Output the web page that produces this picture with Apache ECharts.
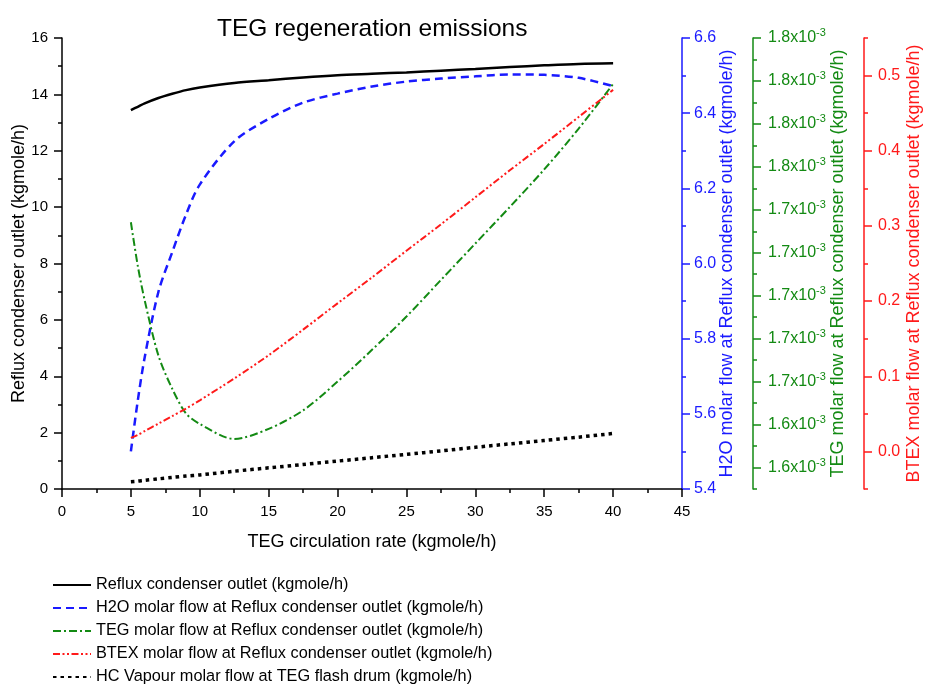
<!DOCTYPE html>
<html>
<head>
<meta charset="utf-8">
<script src="https://cdn.jsdelivr.net/npm/echarts@6/dist/echarts.min.js"></script>
<style>
html,body{margin:0;padding:0;background:#fff;}
#chart{width:926px;height:686px;}
</style>
</head>
<body>
<div id="chart"></div>
<script>
// ---- data ----
const xVals = [5, 5.5, 6, 7, 8, 9, 10, 12.5, 15, 17.5, 20, 22.5, 25, 27.5, 30, 32.5, 35, 37.5, 40];
const refluxOutlet = [13.44, 13.56, 13.68, 13.87, 14.02, 14.15, 14.24, 14.40, 14.50, 14.60, 14.68, 14.73, 14.78, 14.84, 14.90, 14.97, 15.03, 15.08, 15.10];
const h2oFlow = [5.50, 5.635, 5.75, 5.925, 6.03, 6.13, 6.21, 6.325, 6.385, 6.428, 6.452, 6.471, 6.484, 6.492, 6.498, 6.503, 6.502, 6.494, 6.472];
const tegFlow = [1.7342e-3, 1.7139e-3, 1.6979e-3, 1.6721e-3, 1.6567e-3, 1.6452e-3, 1.6403e-3, 1.6333e-3, 1.6380e-3, 1.6466e-3, 1.6600e-3, 1.6748e-3, 1.6903e-3, 1.7073e-3, 1.7243e-3, 1.7413e-3, 1.7588e-3, 1.7778e-3, 1.7986e-3];
const btexFlow = [0.018, 0.022, 0.027, 0.037, 0.047, 0.057, 0.068, 0.097, 0.128, 0.162, 0.197, 0.2315, 0.267, 0.302, 0.338, 0.374, 0.409, 0.445, 0.481];
const hcVapour = [0.26, 0.28, 0.31, 0.36, 0.41, 0.46, 0.50, 0.63, 0.75, 0.87, 0.99, 1.11, 1.23, 1.35, 1.48, 1.60, 1.72, 1.84, 1.97];

const seriesNames = [
  'Reflux condenser outlet (kgmole/h)',
  'H2O molar flow at Reflux condenser outlet (kgmole/h)',
  'TEG molar flow at Reflux condenser outlet (kgmole/h)',
  'BTEX molar flow at Reflux condenser outlet (kgmole/h)',
  'HC Vapour molar flow at TEG flash drum (kgmole/h)'
];

// tick values / labels
const greenMajorTicks = [1.62e-3, 1.64e-3, 1.66e-3, 1.68e-3, 1.70e-3, 1.72e-3, 1.74e-3, 1.76e-3, 1.78e-3, 1.80e-3, 1.82e-3];
const greenMinorTicks = [1.61e-3, 1.63e-3, 1.65e-3, 1.67e-3, 1.69e-3, 1.71e-3, 1.73e-3, 1.75e-3, 1.77e-3, 1.79e-3, 1.81e-3];
const redMajorTicks = [0.0, 0.1, 0.2, 0.3, 0.4, 0.5];
const redMinorTicks = [-0.05, 0.05, 0.15, 0.25, 0.35, 0.45, 0.55];

const FONT = '"Liberation Sans", Arial, sans-serif';
const BLUE = '#1a1aff', GREEN = '#138a13', RED = '#ff1a1a', BLACK = '#000';
const MAJOR = 8, MINOR = 4;

function zip(a, b) { return a.map((v, i) => [v, b[i]]); }

function valAxis(color, extra) {
  return Object.assign({
    type: 'value',
    position: 'right',
    axisLine: { show: true, onZero: false, lineStyle: { color: color, width: 1.5 } },
    axisTick: { show: true, inside: false, length: MAJOR, lineStyle: { color: color, width: 1.5 } },
    minorTick: { show: true, splitNumber: 2, length: MINOR, lineStyle: { color: color, width: 1.5 } },
    splitLine: { show: false },
    minorSplitLine: { show: false },
    axisLabel: { color: color, fontSize: 16, fontFamily: FONT, margin: 13 },
    nameLocation: 'middle',
    nameRotate: 90,
    nameMoveOverlap: false,
    nameTextStyle: { color: color, fontSize: 18, fontFamily: FONT }
  }, extra);
}

const chart = echarts.init(document.getElementById('chart'), null, { renderer: 'canvas' });

const option = {
  backgroundColor: '#fff',
  animation: false,
  title: {
    text: 'TEG regeneration emissions',
    left: 212, top: 12,
    textStyle: { fontSize: 24.5, fontWeight: 'normal', color: '#000', fontFamily: FONT }
  },
  legend: {
    orient: 'vertical',
    left: 52, top: 577, padding: 0,
    itemWidth: 38, itemHeight: 14, itemGap: 7,
    itemStyle: { opacity: 0 },
    textStyle: { fontSize: 16.3, color: '#000', fontFamily: FONT },
    data: seriesNames
  },
  grid: { left: 62, right: 244, top: 38, bottom: 197, containLabel: false, outerBoundsMode: 'none' },
  xAxis: {
    type: 'value', min: 0, max: 45, interval: 5,
    axisLine: { show: true, onZero: false, lineStyle: { color: BLACK, width: 1.5 } },
    axisTick: { show: true, length: MAJOR, lineStyle: { color: BLACK, width: 1.5 } },
    minorTick: { show: true, splitNumber: 2, length: MINOR, lineStyle: { color: BLACK, width: 1.5 } },
    splitLine: { show: false },
    axisLabel: { color: BLACK, fontSize: 15, fontFamily: FONT, margin: 15 },
    name: 'TEG circulation rate (kgmole/h)',
    nameLocation: 'middle', nameGap: 44, nameMoveOverlap: false,
    nameTextStyle: { color: BLACK, fontSize: 18, fontFamily: FONT }
  },
  yAxis: [
    valAxis(BLACK, {
      position: 'left', min: 0, max: 16, interval: 2,
      axisLabel: { color: BLACK, fontSize: 15, fontFamily: FONT, margin: 14 },
      name: 'Reflux condenser outlet (kgmole/h)', nameGap: 34
    }),
    valAxis(BLUE, {
      min: 5.4, max: 6.6, interval: 0.2, offset: 0,
      axisLabel: { color: BLUE, fontSize: 16, fontFamily: FONT, margin: 12, formatter: v => v.toFixed(1) },
      name: 'H2O molar flow at Reflux condenser outlet (kgmole/h)', nameGap: 36
    }),
    valAxis(GREEN, {
      min: 1.61e-3, max: 1.82e-3, offset: 71,
      minorTick: { show: false },
      axisTick: { show: true, length: MAJOR, customValues: greenMajorTicks, lineStyle: { color: GREEN, width: 1.5 } },
      axisLabel: {
        color: GREEN, fontFamily: FONT, margin: 15,
        customValues: greenMajorTicks,
        formatter: v => '{m|' + (v * 1000).toFixed(1) + 'x10}{s|-3}',
        rich: {
          m: { color: GREEN, fontSize: 16, fontFamily: FONT },
          s: { color: GREEN, fontSize: 11, fontFamily: FONT, padding: [0, 0, 10, 0] }
        }
      },
      name: 'TEG molar flow at Reflux condenser outlet (kgmole/h)', nameGap: 76
    }),
    valAxis(RED, {
      min: -0.05, max: 0.55, offset: 182,
      minorTick: { show: false },
      axisTick: { show: true, length: MAJOR, customValues: redMajorTicks, lineStyle: { color: RED, width: 1.5 } },
      axisLabel: {
        color: RED, fontSize: 16, fontFamily: FONT, margin: 14,
        customValues: redMajorTicks,
        formatter: v => v.toFixed(1)
      },
      name: 'BTEX molar flow at Reflux condenser outlet (kgmole/h)', nameGap: 41
    }),
    // minor tick overlays
    valAxis(GREEN, {
      min: 1.61e-3, max: 1.82e-3, offset: 71,
      axisLine: { show: false, onZero: false }, minorTick: { show: false },
      axisTick: { show: true, length: MINOR, customValues: greenMinorTicks, lineStyle: { color: GREEN, width: 1.5 } },
      axisLabel: { show: false }
    }),
    valAxis(RED, {
      min: -0.05, max: 0.55, offset: 182,
      axisLine: { show: false, onZero: false }, minorTick: { show: false },
      axisTick: { show: true, length: MINOR, customValues: redMinorTicks, lineStyle: { color: RED, width: 1.5 } },
      axisLabel: { show: false }
    })
  ],
  series: [
    {
      name: seriesNames[0], type: 'line', yAxisIndex: 0, data: zip(xVals, refluxOutlet),
      smooth: 0.3, symbol: 'none', color: BLACK,
      lineStyle: { color: BLACK, width: 2.5, type: 'solid' }
    },
    {
      name: seriesNames[1], type: 'line', yAxisIndex: 1, data: zip(xVals, h2oFlow),
      smooth: 0.3, symbol: 'none', color: BLUE,
      lineStyle: { color: BLUE, width: 2.5, type: [8, 5] }
    },
    {
      name: seriesNames[2], type: 'line', yAxisIndex: 2, data: zip(xVals, tegFlow),
      smooth: 0.3, symbol: 'none', color: GREEN,
      lineStyle: { color: GREEN, width: 2, type: [8, 3, 2, 3] }
    },
    {
      name: seriesNames[3], type: 'line', yAxisIndex: 3, data: zip(xVals, btexFlow),
      smooth: 0.3, symbol: 'none', color: RED,
      lineStyle: { color: RED, width: 2, type: [7, 2.5, 2, 2.5, 2, 2.5] }
    },
    {
      name: seriesNames[4], type: 'line', yAxisIndex: 0, data: zip(xVals, hcVapour),
      smooth: 0.3, symbol: 'none', color: BLACK,
      lineStyle: { color: BLACK, width: 3.5, type: [3.5, 4] }
    }
  ]
};
chart.setOption(option);
</script>
</body>
</html>
